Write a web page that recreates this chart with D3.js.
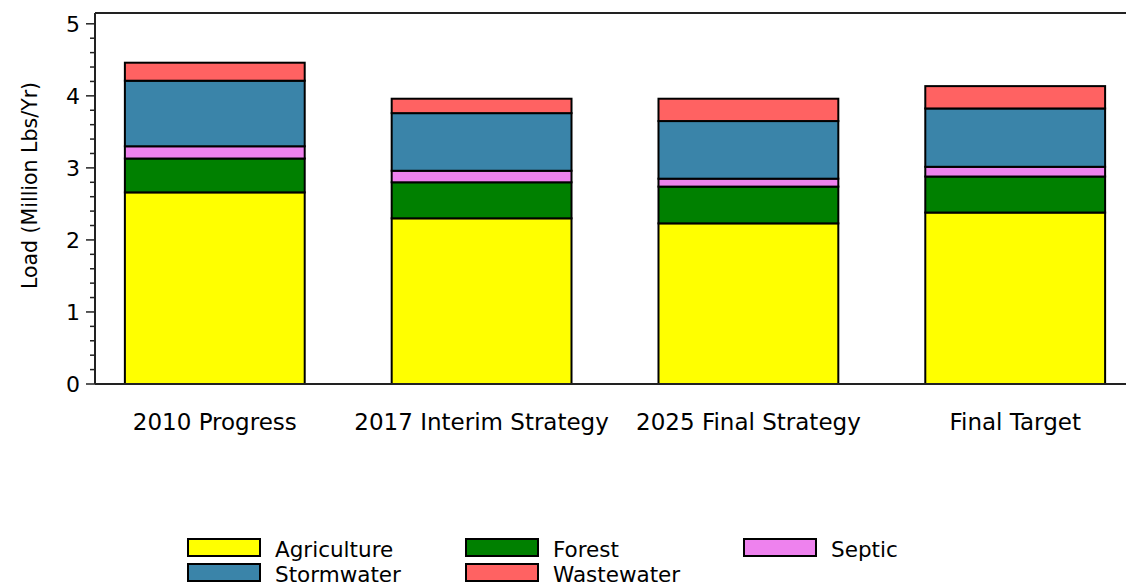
<!DOCTYPE html>
<html>
<head>
<meta charset="utf-8">
<script src="https://cdn.jsdelivr.net/npm/d3@7"></script>
<style>
  body { margin: 0; background: #fff; }
  svg { display: block; }
  text { font-family: 'DejaVu Sans', sans-serif; fill: #000; }
</style>
</head>
<body>
<svg id="chart"></svg>
<script>
// categories along the x axis
const categories = ['2010 Progress', '2017 Interim Strategy', '2025 Final Strategy', 'Final Target'];

// stacked series, bottom to top (million lbs/yr)
const seriesNames = ['Agriculture', 'Forest', 'Septic', 'Stormwater', 'Wastewater'];
const agriculture = [2.66, 2.30, 2.23, 2.38];
const forest = [0.47, 0.50, 0.51, 0.50];
const septic = [0.17, 0.16, 0.11, 0.135];
const stormwater = [0.91, 0.80, 0.80, 0.81];
const wastewater = [0.25, 0.20, 0.31, 0.31];

const yTicks = [0, 1, 2, 3, 4, 5];
const yLabel = 'Load (Million Lbs/Yr)';

// legend is laid out in rows of three
const legendOrder = ['Agriculture', 'Forest', 'Septic', 'Stormwater', 'Wastewater'];

const colors = {
  Agriculture: '#ffff00',
  Forest: '#008000',
  Septic: '#ee82ee',
  Stormwater: '#3a84a9',
  Wastewater: '#ff6262',
};

const width = 1126;
const height = 586;

const svg = d3.select('#chart').attr('width', width).attr('height', height);

const rows = categories.map((c, i) => ({
  category: c,
  Agriculture: agriculture[i],
  Forest: forest[i],
  Septic: septic[i],
  Stormwater: stormwater[i],
  Wastewater: wastewater[i],
}));

const stacked = d3.stack().keys(seriesNames)(rows);

const x = d3
  .scaleBand()
  .domain(categories)
  .range([95, 1135])
  .paddingInner(0.326)
  .paddingOuter(0.112);

const y = d3.scaleLinear().domain([0, 5.15]).range([384, 13]);

// bars
svg
  .append('g')
  .selectAll('g')
  .data(stacked)
  .enter()
  .append('g')
  .attr('fill', (d) => colors[d.key])
  .selectAll('rect')
  .data((d) => d)
  .enter()
  .append('rect')
  .attr('x', (d) => x(d.data.category))
  .attr('y', (d) => y(d[1]))
  .attr('width', x.bandwidth())
  .attr('height', (d) => y(d[0]) - y(d[1]))
  .attr('stroke', '#000')
  .attr('stroke-width', 2);

// frame lines (top and bottom run off the right edge)
svg
  .append('line')
  .attr('x1', 95)
  .attr('x2', width)
  .attr('y1', y(5.15))
  .attr('y2', y(5.15))
  .attr('stroke', '#222')
  .attr('stroke-width', 2);
svg
  .append('line')
  .attr('x1', 95)
  .attr('x2', width)
  .attr('y1', y(0))
  .attr('y2', y(0))
  .attr('stroke', '#222')
  .attr('stroke-width', 2);

// y axis with minor ticks
const yAxis = svg.append('g').attr('transform', 'translate(95,0)');
yAxis
  .append('line')
  .attr('x1', 0)
  .attr('x2', 0)
  .attr('y1', y(5.15))
  .attr('y2', y(0))
  .attr('stroke', '#222')
  .attr('stroke-width', 2);

const minorTicks = d3.range(0, 5.15, 0.2).filter((v) => Math.abs(v - Math.round(v)) > 0.01);
yAxis
  .selectAll('.minor')
  .data(minorTicks)
  .enter()
  .append('line')
  .attr('class', 'minor')
  .attr('x1', -5)
  .attr('x2', 0)
  .attr('y1', (d) => y(d))
  .attr('y2', (d) => y(d))
  .attr('stroke', '#222')
  .attr('stroke-width', 1.5);

yAxis
  .selectAll('.major')
  .data(yTicks)
  .enter()
  .append('line')
  .attr('class', 'major')
  .attr('x1', -9)
  .attr('x2', 0)
  .attr('y1', (d) => y(d))
  .attr('y2', (d) => y(d))
  .attr('stroke', '#222')
  .attr('stroke-width', 1.5);

yAxis
  .selectAll('.tlabel')
  .data(yTicks)
  .enter()
  .append('text')
  .attr('class', 'tlabel')
  .attr('x', -15)
  .attr('y', (d) => y(d))
  .attr('dy', '0.36em')
  .attr('text-anchor', 'end')
  .attr('font-size', 22)
  .text((d) => d);

svg
  .append('text')
  .attr('transform', `translate(30,${(y(0) + y(5.15)) / 2 - 13}) rotate(-90)`)
  .attr('text-anchor', 'middle')
  .attr('dy', '0.35em')
  .attr('font-size', 20.5)
  .text(yLabel);

// category labels
svg
  .selectAll('.xlabel')
  .data(categories)
  .enter()
  .append('text')
  .attr('class', 'xlabel')
  .attr('x', (d) => x(d) + x.bandwidth() / 2)
  .attr('y', 430)
  .attr('text-anchor', 'middle')
  .attr('font-size', 23)
  .text((d) => d);

// legend
const legend = svg
  .selectAll('.legend')
  .data(legendOrder)
  .enter()
  .append('g')
  .attr('class', 'legend')
  .attr('transform', (d, i) => `translate(${188 + (i % 3) * 278},${539 + Math.floor(i / 3) * 25})`);

legend
  .append('rect')
  .attr('width', 72)
  .attr('height', 17)
  .attr('fill', (d) => colors[d])
  .attr('stroke', '#000')
  .attr('stroke-width', 2);

legend
  .append('text')
  .attr('x', 87)
  .attr('y', 18)
  .attr('font-size', 21.5)
  .text((d) => d);
</script>
</body>
</html>
